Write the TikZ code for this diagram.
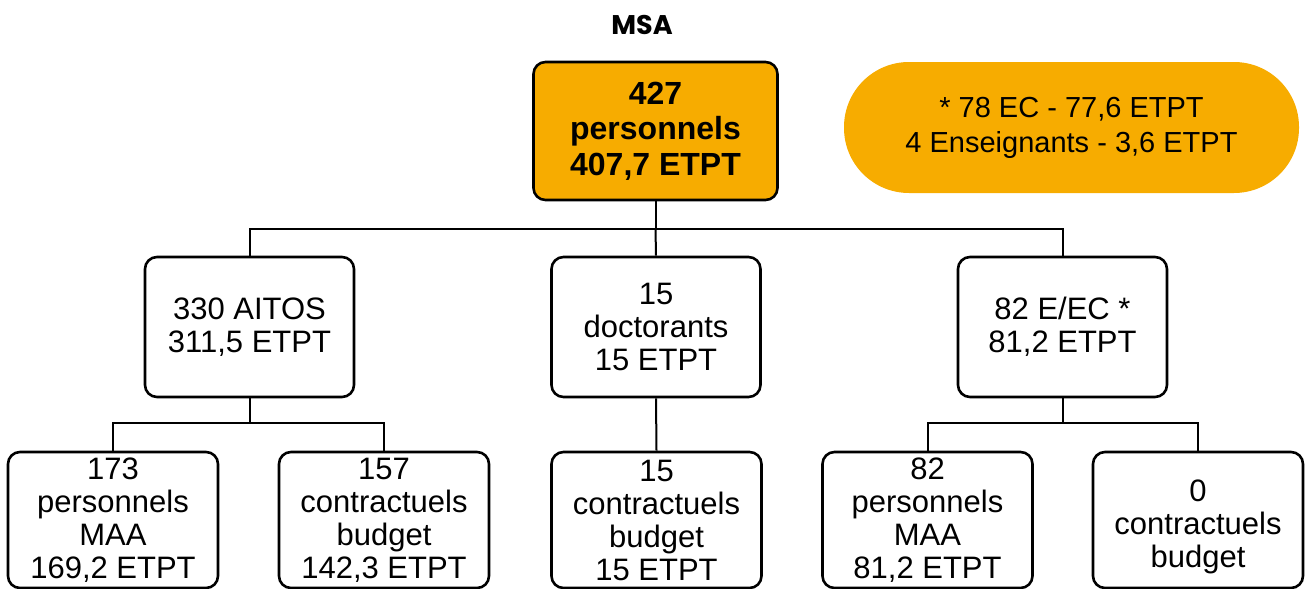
\documentclass[tikz,border=0pt]{standalone}
\usepackage{fontspec}
\setmainfont{Liberation Sans}
\newfontfamily\titlefont{Poppins}
\usetikzlibrary{positioning,calc}
\definecolor{msaorange}{RGB}{247,172,0}

\begin{document}
\begin{tikzpicture}[x=1pt,y=-1pt,
    box/.style={draw,line width=2.6pt,rounded corners=12pt,align=center,inner sep=0pt,
        font=\fontsize{31}{33}\selectfont},
    niv2/.style={box,minimum width=209pt,minimum height=140pt},
    niv3/.style={box,minimum width=210pt,minimum height=136pt},
    lien/.style={line width=2pt}]
\useasboundingbox (0,0) rectangle (1307,589);

% titre et effectif total
\node[font=\titlefont\bfseries\fontsize{27}{30}\selectfont] (titre) at (642,25) {MSA};
\node[box,fill=msaorange,minimum width=244pt,minimum height=138pt,
    font=\fontsize{32}{35.5}\selectfont\bfseries] (total) at (655.5,131)
    {427\\personnels\\407,7 ETPT};
\node[fill=msaorange,rounded corners=65pt,minimum width=455pt,minimum height=131pt,
    align=center,font=\fontsize{29}{35}\selectfont] (note) at (1071.5,127.5)
    {* 78 EC - 77,6 ETPT\\4 Enseignants - 3,6 ETPT};

% second niveau
\node[niv2] (aitos) at (249.5,327) {330 AITOS\\311,5 ETPT};
\node[niv2] (doct) at (656,327) {15\\doctorants\\15 ETPT};
\node[niv2] (eec) at (1062.5,327) {82 E/EC *\\81,2 ETPT};

% troisieme niveau
\node[niv3] (maa1) at (113,520) {173\\personnels\\MAA\\169,2 ETPT};
\node[niv3] (cb1) at (384,520) {157\\contractuels\\budget\\142,3 ETPT};
\node[niv3] (cb2) at (656.5,520) {15\\contractuels\\budget\\15 ETPT};
\node[niv3] (maa2) at (927.5,520) {82\\personnels\\MAA\\81,2 ETPT};
\node[niv3,label={[align=center,yshift=-7pt,font=\fontsize{31}{33}\selectfont]center:{0\\contractuels\\budget}}] (cb3) at (1198,520) {};

% liaisons
\coordinate (j0) at (655.5,229);
\draw[lien] (total.south) -- (j0);
\draw[lien] (aitos.north) -- (aitos.north |- j0) -- (eec.north |- j0) -- (eec.north);
\draw[lien] (j0) -- (doct.north);

\coordinate (j1) at (249.5,423);
\draw[lien] (aitos.south) -- (j1);
\draw[lien] (maa1.north) -- (maa1.north |- j1) -- (cb1.north |- j1) -- (cb1.north);
\draw[lien] (doct.south) -- (cb2.north);
\coordinate (j3) at (1062.5,423);
\draw[lien] (eec.south) -- (j3);
\draw[lien] (maa2.north) -- (maa2.north |- j3) -- (cb3.north |- j3) -- (cb3.north);
\end{tikzpicture}
\end{document}
